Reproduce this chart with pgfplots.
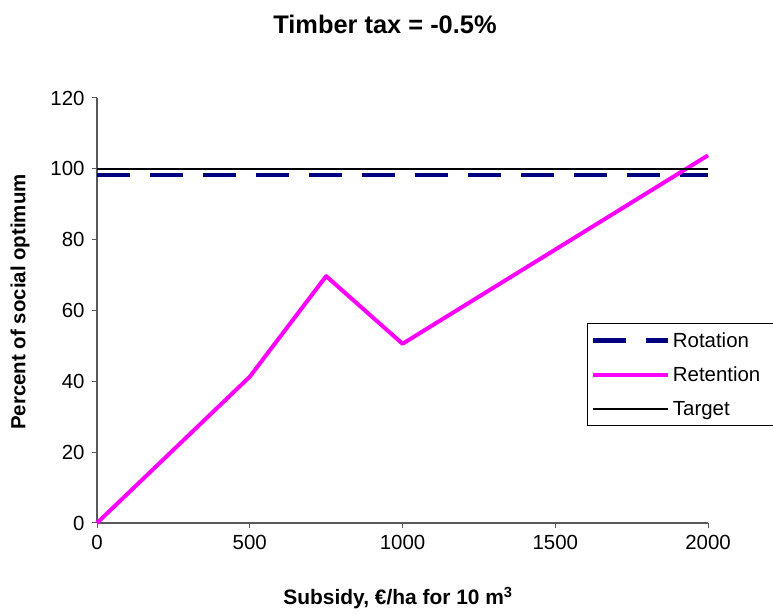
\documentclass[border=0pt]{standalone}
\usepackage{pgfplots}
\pgfplotsset{compat=1.18}
\usepackage{fontspec}
\setmainfont{Liberation Sans}
\definecolor{navyc}{RGB}{0,0,128}
\definecolor{magc}{RGB}{255,0,255}
\begin{document}
\begin{tikzpicture}[x=1bp,y=1bp]
\useasboundingbox (0,0) rectangle (773,614);
\begin{axis}[
  at={(97bp,91bp)}, anchor=south west,
  width=611bp, height=425bp, scale only axis,
  xmin=0, xmax=2000, ymin=0, ymax=120,
  xtick={0,500,1000,1500,2000},
  ytick={0,20,40,60,80,100,120},
  axis x line*=bottom, axis y line*=left,
  axis line style={gray!70!black, line width=1.2pt, -},
  tick style={gray!70!black, line width=1pt},
  tick align=outside, major tick length=5bp,
  every tick label/.append style={font=\fontsize{20.5}{24}\selectfont},
  /pgf/number format/assume math mode=true,
  /pgf/number format/1000 sep={},
  xticklabel style={yshift=-4bp},
  yticklabel style={xshift=-4bp},
  legend cell align=left,
  legend style={at={(0.802,0.4706)}, anchor=north west, draw=black, line width=0.8pt,
    font=\fontsize{20.5}{24}\selectfont, row sep=14bp, inner xsep=3bp, inner ysep=7bp,
    nodes={inner xsep=3bp, inner ysep=2bp},
    text width=100bp},
  legend image code/.code={\draw[#1] (0bp,0bp) -- (75bp,0bp);},
  clip=false,
]
\addplot[navyc, line width=4.5bp, dash pattern=on 33bp off 20bp] coordinates {(0,98.3) (2000,98.3)};
\addlegendentry{Rotation}
\addplot[magc, line width=4bp, line join=round] coordinates {(0,0) (500,41.3) (750,69.7) (1000,50.6) (2000,103.8)};
\addlegendentry{Retention}
\addplot[black, line width=2bp] coordinates {(0,100) (2000,100)};
\addlegendentry{Target}
\end{axis}
\node[font=\bfseries\fontsize{25.5}{29}\selectfont] at (385,590) {Timber tax = -0.5\%};
\node[font=\bfseries\fontsize{20.5}{24}\selectfont, rotate=90] at (20,312) {Percent of social optimum};
\node[font=\bfseries\fontsize{21}{24}\selectfont] at (398,16) {Subsidy, €/ha for 10 m\textsuperscript{3}};
\end{tikzpicture}
\end{document}
